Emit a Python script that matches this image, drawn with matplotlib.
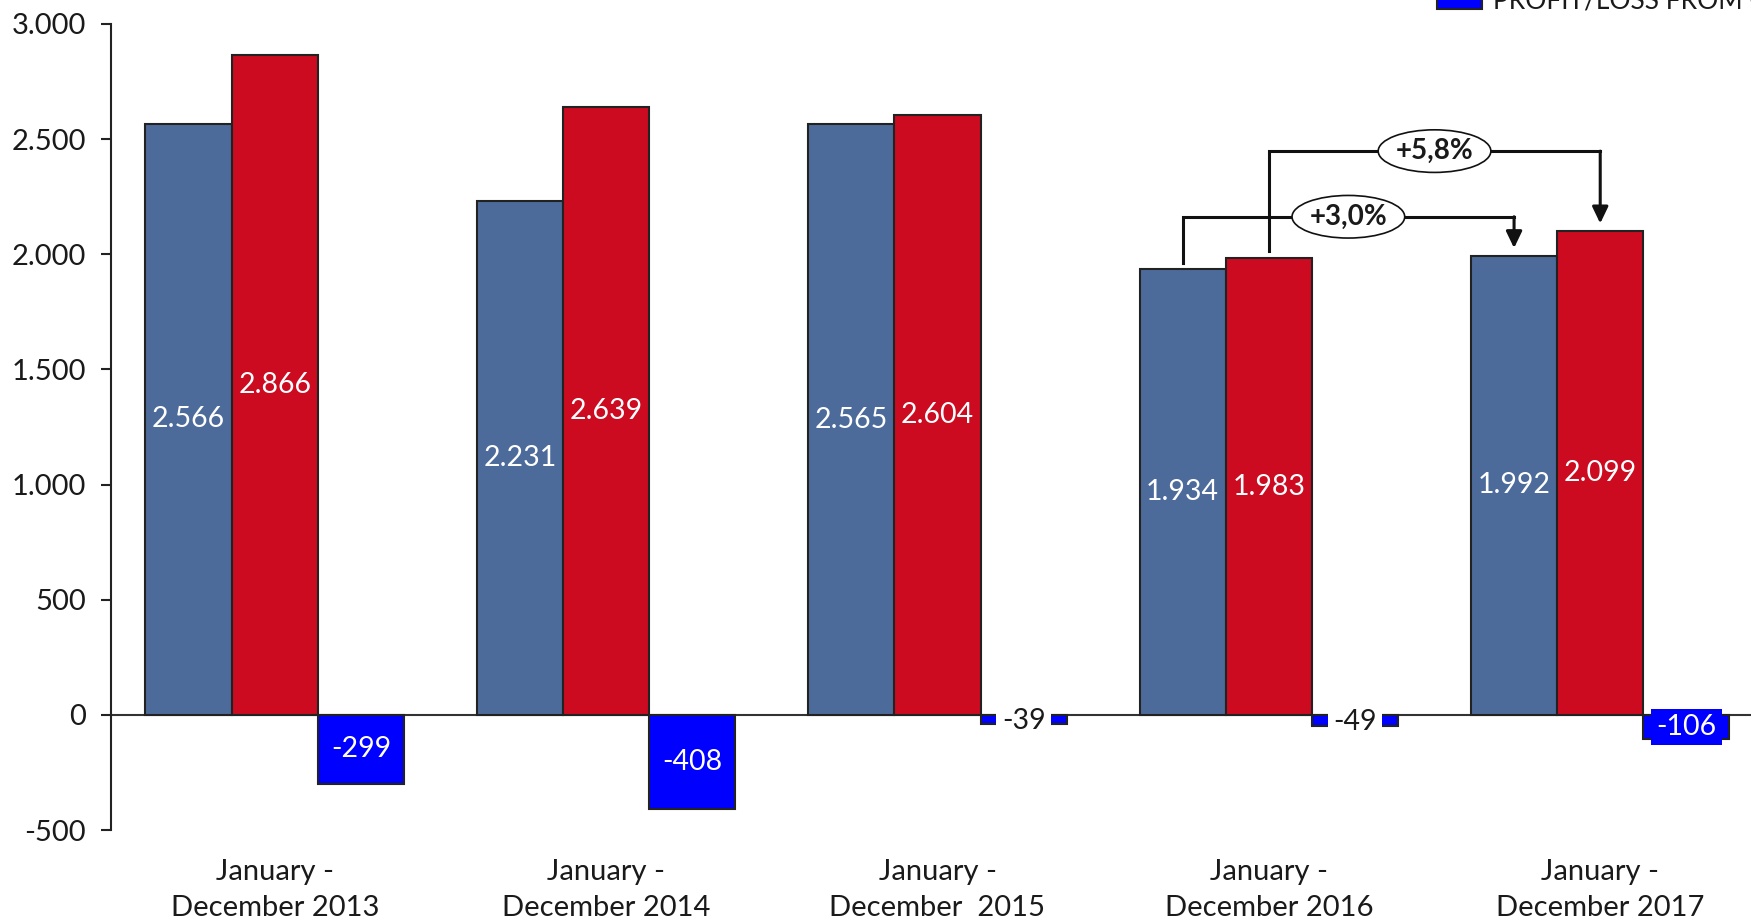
import numpy as np
import matplotlib
matplotlib.use("Agg")
import matplotlib.pyplot as plt
from matplotlib.patches import Ellipse, Rectangle
from matplotlib.ticker import FuncFormatter

plt.rcParams["font.family"] = ["Lato", "DejaVu Sans"]

# ── Data ──────────────────────────────────────────────────────────────────────
CATEGORIES = [
    "January -\nDecember 2013",
    "January -\nDecember 2014",
    "January -\nDecember  2015",
    "January -\nDecember 2016",
    "January -\nDecember 2017",
]
SERIES_A = [2566, 2231, 2565, 1934, 1992]      # blue-grey bars
SERIES_B = [2866, 2639, 2604, 1983, 2099]      # red bars
PROFIT_LOSS = [-299, -408, -39, -49, -106]     # blue bars
LEGEND_LABEL = "PROFIT/LOSS FROM OPERATIONS"

# growth brackets: (series, from index, to index, label, bracket height)
GROWTH = [
    ("a", 3, 4, "+3,0%", 2163),
    ("b", 3, 4, "+5,8%", 2448),
]

COLOR_A = "#4D6B9A"
COLOR_B = "#CC0A20"
COLOR_PL = "#0000FF"
EDGE = "#222222"
TXT = "#1a1a1a"
FS = 20.5


def fmt(v):
    return f"{int(v):,}".replace(",", ".")


# ── Figure ────────────────────────────────────────────────────────────────────
W, H = 1751, 921
fig = plt.figure(figsize=(W / 100, H / 100), dpi=100)
ax = fig.add_axes([110.5 / W, 91 / H, 1 - 110.5 / W, (830 - 24) / H])

x = np.arange(len(CATEGORIES))
w = 0.26

ba = ax.bar(x - w, SERIES_A, w, color=COLOR_A, edgecolor=EDGE, linewidth=1.5, zorder=2)
bb = ax.bar(x, SERIES_B, w, color=COLOR_B, edgecolor=EDGE, linewidth=1.5, zorder=2)
bp = ax.bar(x + w, PROFIT_LOSS, w, color=COLOR_PL, edgecolor=EDGE, linewidth=1.5, zorder=2)

ax.axhline(0, color="#333333", linewidth=1.5, zorder=1)

# value labels
for xs, vals in [(x - w, SERIES_A), (x, SERIES_B)]:
    for xi, v in zip(xs, vals):
        ax.text(xi, v / 2, fmt(v), ha="center", va="center", color="white",
                fontsize=FS, zorder=4)

for xi, v in zip(x + w, PROFIT_LOSS):
    if abs(v) < 60:
        ax.text(xi, v / 2 - 8, fmt(v), ha="center", va="center", color=TXT, fontsize=FS,
                zorder=4, bbox=dict(boxstyle="square,pad=0.2", fc="white", ec="none"))
    else:
        ax.text(xi, v / 2, fmt(v), ha="center", va="center", color="white", fontsize=FS,
                zorder=4, bbox=dict(boxstyle="square,pad=0.18", fc=COLOR_PL, ec="none"))

# growth brackets
series_map = {"a": (x - w, SERIES_A), "b": (x, SERIES_B)}
for key, i0, i1, label, yh in GROWTH:
    xs, vals = series_map[key]
    x0, x1 = xs[i0], xs[i1]
    ax.plot([x0, x0, x1], [vals[i0] + 30, yh, yh], color="#111111", lw=2.2,
            solid_joinstyle="miter", zorder=5)
    ax.annotate("", xy=(x1, vals[i1] + 35), xytext=(x1, yh),
                arrowprops=dict(arrowstyle="-|>,head_length=0.5,head_width=0.24",
                                mutation_scale=20, lw=2.2, color="#111111",
                                shrinkA=0, shrinkB=0), zorder=5)
    xm = (x0 + x1) / 2
    ax.add_patch(Ellipse((xm, yh), 0.34, 185, fc="white", ec="#111111", lw=1.2, zorder=6))
    ax.text(xm, yh, label, ha="center", va="center", fontsize=20, fontweight="bold",
            color=TXT, zorder=7)

# axes styling
ax.set_xlim(-0.4955, 4.455)
ax.set_ylim(-500, 3000)
ax.set_yticks(np.arange(-500, 3001, 500))
ax.yaxis.set_major_formatter(FuncFormatter(lambda v, p: fmt(v)))
ax.tick_params(axis="y", length=7, width=1.5, color=EDGE, labelsize=FS + 0.5,
               labelcolor=TXT, pad=10.5)
ax.set_xticks(x)
ax.set_xticklabels(CATEGORIES, fontsize=FS + 0.5, color=TXT, linespacing=1.45)
ax.tick_params(axis="x", length=0, pad=21)
for s in ["top", "right", "bottom"]:
    ax.spines[s].set_visible(False)
ax.spines["left"].set_linewidth(1.5)
ax.spines["left"].set_color(EDGE)

# legend (only the last entry is inside the canvas)
fig.add_artist(Rectangle((1437 / W, (H - 9) / H), 45 / W, 30 / H,
                         transform=fig.transFigure, fc=COLOR_PL, ec=EDGE, lw=1.5))
fig.text(1493 / W, (H - 8) / H, LEGEND_LABEL, ha="left", va="baseline",
         fontsize=19, color=TXT)

fig.savefig("out.png", dpi=100)
